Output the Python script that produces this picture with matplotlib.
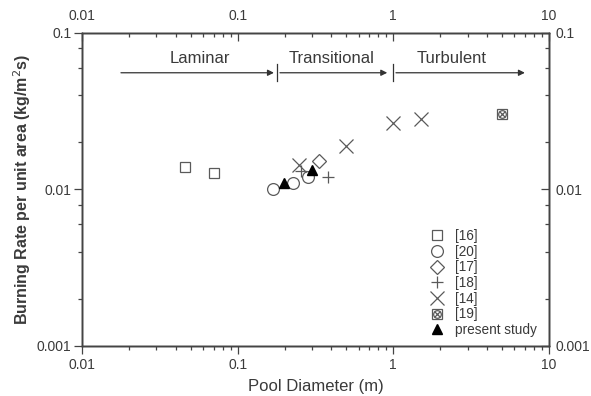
import numpy as np
import matplotlib
matplotlib.use("Agg")
import matplotlib.pyplot as plt
from matplotlib.ticker import FixedLocator, NullFormatter, FuncFormatter

plt.rcParams['font.family'] = ['Liberation Sans', 'DejaVu Sans']

# burning rate data, pool diameter (m) vs rate (kg/m2 s)
d16 = [0.046, 0.071]
r16 = [0.0140, 0.0128]
d20 = [0.169, 0.226, 0.283]
r20 = [0.0100, 0.0110, 0.0121]
d17 = [0.333]
r17 = [0.0151]
d18 = [0.255, 0.378]
r18 = [0.0132, 0.0121]
d14 = [0.249, 0.50, 1.0, 1.5]
r14 = [0.0144, 0.0191, 0.0265, 0.0281]
d19 = [5.0]
r19 = [0.0302]
d_present = [0.199, 0.300]
r_present = [0.0110, 0.0133]

# flow regimes: label, label position, arrow start, arrow end
regimes = [("Laminar", 0.0573, 0.0178, 0.171),
           ("Transitional", 0.40, 0.187, 0.914),
           ("Turbulent", 2.37, 1.04, 7.0)]
dividers = [0.178, 1.0]

grey = '#5a5a5a'
txt = '#3a3a3a'
axc = '#444444'

fig = plt.figure(figsize=(5.91, 3.96), dpi=100)
ax = fig.add_axes([0.1387, 0.1263, 0.7902, 0.7904])
ax.set_xscale('log')
ax.set_yscale('log')
ax.set_xlim(0.01, 10)
ax.set_ylim(0.001, 0.1)

mew = 0.9
h16, = ax.plot(d16, r16, 's', ms=7, mfc='none', mec=grey, mew=mew)
h20, = ax.plot(d20, r20, 'o', ms=8.5, mfc='none', mec=grey, mew=mew)
h17, = ax.plot(d17, r17, 'D', ms=7, mfc='none', mec=grey, mew=mew)
h18, = ax.plot(d18, r18, '+', ms=8.5, mec=grey, mew=mew)
h14, = ax.plot(d14, r14, 'x', ms=9.5, mec=grey, mew=mew)
h19a, = ax.plot(d19, r19, 's', ms=7, mfc='none', mec=grey, mew=mew)
h19b, = ax.plot(d19, r19, 'o', ms=5.5, mfc='none', mec=grey, mew=mew)
h19c, = ax.plot(d19, r19, 'x', ms=4.5, mec=grey, mew=mew)
hps, = ax.plot(d_present, r_present, '^', ms=6.5, mfc='black', mec='black')

# regime arrows
ya = 0.0557
for name, xl, x0, x1 in regimes:
    ax.annotate('', xy=(x1, ya), xytext=(x0, ya),
                arrowprops=dict(arrowstyle='-|>', color='#333333', lw=0.9,
                                mutation_scale=9, shrinkA=0, shrinkB=0))
    ax.text(xl, 0.0690, name, ha='center', va='center', fontsize=12, color=txt)
for xd in dividers:
    ax.plot([xd, xd], [0.0492, 0.0632], color='#333333', lw=0.9)

ax.legend([h16, h20, h17, h18, h14, (h19a, h19b, h19c), hps],
          ['[16]', '[20]', '[17]', '[18]', '[14]', '[19]', 'present study'],
          loc='upper left', bbox_to_anchor=(0.728, 0.395), frameon=False,
          fontsize=9.8, handlelength=1.2, handletextpad=0.7,
          labelspacing=0.12, borderpad=0, labelcolor=txt)

xmajor = [0.01, 0.1, 1, 10]
ymajor = [0.001, 0.01, 0.1]
xminor = [m * 10.0 ** e for e in range(-2, 1) for m in range(2, 10)]
yminor = [m * 10.0 ** e for e in range(-3, -1) for m in (2, 4, 6, 8)]
fmt = FuncFormatter(lambda v, p: '%g' % v)

# top and right axes mirror the scales, ticks pointing inwards
axt = ax.twiny()
axr = ax.twinx()
axt.set_xscale('log')
axt.set_xlim(0.01, 10)
axr.set_yscale('log')
axr.set_ylim(0.001, 0.1)

for a in (ax, axt):
    a.xaxis.set_major_locator(FixedLocator(xmajor))
    a.xaxis.set_minor_locator(FixedLocator(xminor))
    a.xaxis.set_major_formatter(fmt)
    a.xaxis.set_minor_formatter(NullFormatter())
for a in (ax, axr):
    a.yaxis.set_major_locator(FixedLocator(ymajor))
    a.yaxis.set_minor_locator(FixedLocator(yminor))
    a.yaxis.set_major_formatter(fmt)
    a.yaxis.set_minor_formatter(NullFormatter())

for a in (ax, axt, axr):
    for s in a.spines.values():
        s.set_color(axc)
        s.set_linewidth(1.0)

ax.tick_params(axis='x', which='major', direction='out', length=5.5, width=0.9, color=axc,
               labelsize=10, labelcolor=txt, pad=3.5)
ax.tick_params(axis='y', which='major', direction='out', length=5.5, width=0.9, color=axc,
               labelsize=10, labelcolor=txt, pad=2)
ax.tick_params(which='minor', direction='out', length=3, width=0.9, color=axc)
axt.tick_params(axis='x', which='major', direction='in', length=5.5, width=0.9, color=axc,
                labelsize=10, labelcolor=txt, pad=7)
axt.tick_params(axis='x', which='minor', direction='in', length=3, width=0.9, color=axc)
axr.tick_params(axis='y', which='major', direction='in', length=5.5, width=0.9, color=axc,
                labelsize=10, labelcolor=txt, pad=5)
axr.tick_params(axis='y', which='minor', direction='in', length=3, width=0.9, color=axc)

ax.set_xlabel('Pool Diameter (m)', fontsize=12, color=txt, labelpad=5)
ax.set_ylabel('Burning Rate per unit area (kg/m$^2$s)', fontsize=11.5, color=txt,
              fontweight='bold', labelpad=3)

fig.savefig('out.png', dpi=100)
